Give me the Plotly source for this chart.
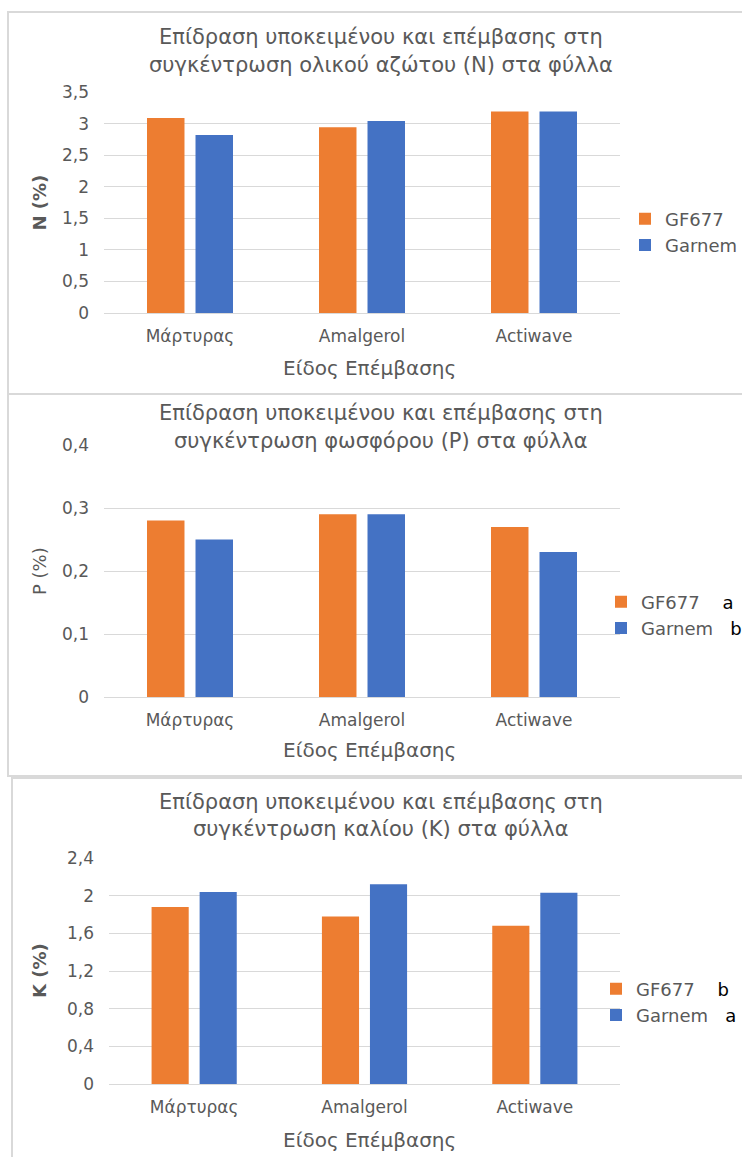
import plotly.graph_objects as go

W, H = 742, 1157

categories = ["Μάρτυρας", "Amalgerol", "Actiwave"]
series_names = ["GF677", "Garnem"]

n_gf677 = [3.09, 2.94, 3.19]
n_garnem = [2.82, 3.04, 3.19]
p_gf677 = [0.28, 0.29, 0.27]
p_garnem = [0.25, 0.29, 0.23]
k_gf677 = [1.88, 1.78, 1.68]
k_garnem = [2.04, 2.12, 2.03]

n_ticks = [0, 0.5, 1, 1.5, 2, 2.5, 3, 3.5]
n_ticktext = ["0", "0,5", "1", "1,5", "2", "2,5", "3", "3,5"]
p_ticks = [0, 0.1, 0.2, 0.3, 0.4]
p_ticktext = ["0", "0,1", "0,2", "0,3", "0,4"]
k_ticks = [0, 0.4, 0.8, 1.2, 1.6, 2.0, 2.4]
k_ticktext = ["0", "0,4", "0,8", "1,2", "1,6", "2", "2,4"]

p_letters = ["a", "b"]
k_letters = ["b", "a"]

titles = [
    ["Επίδραση υποκειμένου και επέμβασης στη", "συγκέντρωση ολικού αζώτου (N) στα φύλλα"],
    ["Επίδραση υποκειμένου και επέμβασης στη", "συγκέντρωση φωσφόρου (P) στα φύλλα"],
    ["Επίδραση υποκειμένου και επέμβασης στη", "συγκέντρωση καλίου (K) στα φύλλα"],
]
y_titles = ["<b>N (%)</b>", "P (%)", "<b>K (%)</b>"]
x_title = "Είδος Επέμβασης"

ORANGE = "#ED7D31"
BLUE = "#4472C4"
TXT = "#595959"
GRID = "#D9D9D9"
FONT = "DejaVu Sans"

def px(x):
    return x / W

def py(y):
    return 1 - y / H

# layout geometry (pixels)
panels = [
    dict(x0=104, x1=620, ybot=313, ytop=92, rng=[0, 3.5], ticks=n_ticks, tt=n_ticktext,
         t1=37, t2=65, xl=368, legx=625, leg=232, gaps=None, frame=(8, 12, 394)),
    dict(x0=104, x1=620, ybot=697, ytop=445, rng=[0, 0.4], ticks=p_ticks, tt=p_ticktext,
         t1=413, t2=441, xl=750, legx=601, leg=615, gaps=[4, 3], frame=(8, 394, 776)),
    dict(x0=109, x1=620, ybot=1084, ytop=858, rng=[0, 2.4], ticks=k_ticks, tt=k_ticktext,
         t1=802, t2=829, xl=1140, legx=596, leg=1002, gaps=[4, 3], frame=(12, 778, 1170)),
]

data_sets = [(n_gf677, n_garnem), (p_gf677, p_garnem), (k_gf677, k_garnem)]
letter_sets = [None, p_letters, k_letters]

fig = go.Figure()
annotations = []
shapes = []

for i, (pn, (a, b), letters) in enumerate(zip(panels, data_sets, letter_sets)):
    sfx = "" if i == 0 else str(i + 1)
    xa, ya = "x" + sfx, "y" + sfx
    lg = "legend" + sfx
    names = []
    for j, nm in enumerate(series_names):
        if letters:
            sp = "&nbsp;" * pn["gaps"][j]
            names.append(f"{nm}{sp}<span style='color:#000000'>{letters[j]}</span>")
        else:
            names.append(nm)
    fig.add_trace(go.Bar(x=categories, y=a, name=names[0], marker_color=ORANGE,
                         marker_line_width=0, xaxis=xa, yaxis=ya, legend=lg,
                         hoverinfo="skip"))
    fig.add_trace(go.Bar(x=categories, y=b, name=names[1], marker_color=BLUE,
                         marker_line_width=0, xaxis=xa, yaxis=ya, legend=lg,
                         hoverinfo="skip"))

    fig.layout["xaxis" + sfx] = dict(
        domain=[px(pn["x0"]), px(pn["x1"])], anchor=ya, showgrid=False,
        showline=True, linecolor=GRID, linewidth=1, ticks="", ticklabelstandoff=8,
        tickfont=dict(family=FONT, size=17, color=TXT), fixedrange=True,
    )
    fig.layout["yaxis" + sfx] = dict(
        domain=[py(pn["ybot"]), py(pn["ytop"])], anchor=xa, range=pn["rng"],
        tickvals=pn["ticks"], ticktext=pn["tt"], showgrid=True, gridcolor=GRID,
        gridwidth=1, zeroline=False, showline=False, ticks="", ticklabelstandoff=14,
        tickfont=dict(family=FONT, size=17, color=TXT), fixedrange=True,
    )
    fig.layout[lg] = dict(
        x=px(pn["legx"]), y=py(pn["leg"]), xanchor="left", yanchor="middle",
        font=dict(family=FONT, size=18, color=TXT), bgcolor="rgba(0,0,0,0)",
        itemwidth=30, tracegroupgap=0,
    )

    annotations.append(dict(text=titles[i][0], x=px(381), y=py(pn["t1"]), xref="paper", yref="paper",
                            showarrow=False, xanchor="center", yanchor="middle",
                            font=dict(family=FONT, size=21, color=TXT)))
    annotations.append(dict(text=titles[i][1], x=px(381), y=py(pn["t2"]), xref="paper", yref="paper",
                            showarrow=False, xanchor="center", yanchor="middle",
                            font=dict(family=FONT, size=21, color=TXT)))
    annotations.append(dict(text=x_title, x=px(369), y=py(pn["xl"]), xref="paper", yref="paper",
                            showarrow=False, xanchor="center", yanchor="middle",
                            font=dict(family=FONT, size=20, color=TXT)))
    annotations.append(dict(text=y_titles[i], x=px(39), y=py((pn["ybot"] + pn["ytop"]) / 2),
                            xref="paper", yref="paper", showarrow=False, textangle=-90,
                            xanchor="center", yanchor="middle",
                            font=dict(family=FONT, size=18, color=TXT)))
    fx, fy0, fy1 = pn["frame"]
    shapes.append(dict(type="rect", xref="paper", yref="paper", x0=px(fx), x1=px(760),
                       y0=py(fy1), y1=py(fy0), line=dict(color=GRID, width=2),
                       fillcolor="rgba(0,0,0,0)", layer="below"))

fig.update_layout(
    width=W, height=H, margin=dict(l=0, r=0, t=0, b=0, autoexpand=False),
    paper_bgcolor="white", plot_bgcolor="rgba(0,0,0,0)",
    barmode="group", bargap=0.436, bargroupgap=0.227,
    annotations=annotations, shapes=shapes, showlegend=True,
    font=dict(family=FONT, color=TXT),
)

fig.write_html("out.html")
